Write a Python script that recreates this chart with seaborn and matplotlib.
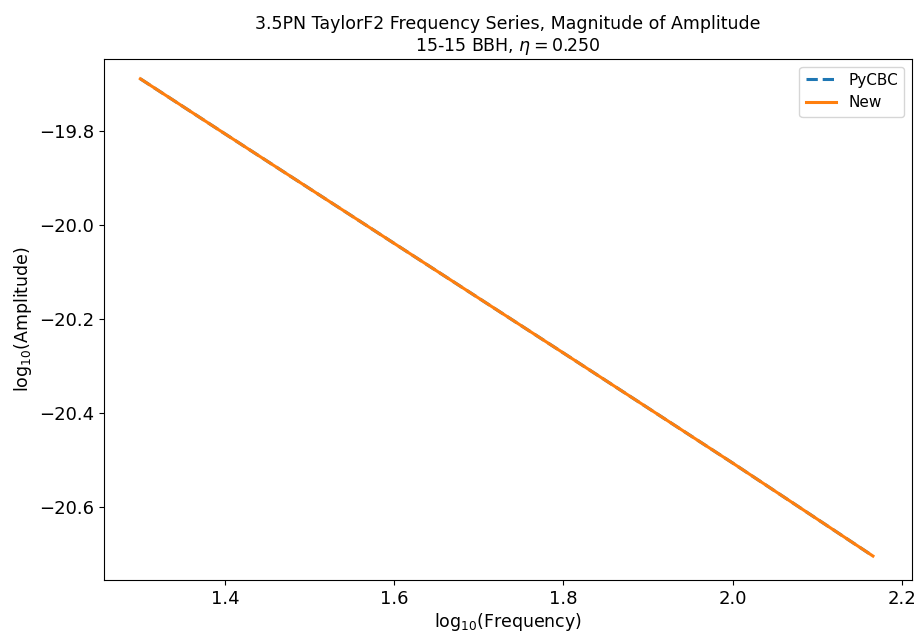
import numpy as np
import pandas as pd
import matplotlib
matplotlib.use("Agg")
import matplotlib.pyplot as plt
import seaborn as sns

# values (log10 scale)
log_freq = [1.300, 1.400, 1.600, 1.800, 2.000, 2.166]
amp_pycbc = [-19.689, -19.806, -20.039, -20.272, -20.506, -20.704]
amp_new = [-19.689, -19.806, -20.039, -20.272, -20.506, -20.704]

df = pd.DataFrame({"f": log_freq, "pycbc": amp_pycbc, "new": amp_new})

fig = plt.figure(figsize=(9.17, 6.33), dpi=100)
ax = fig.add_axes([0.1134, 0.0837, 0.881, 0.823])

sns.lineplot(data=df, x="f", y="pycbc", ax=ax, color="tab:blue",
             linestyle="--", linewidth=2.2, label="PyCBC")
sns.lineplot(data=df, x="f", y="new", ax=ax, color="tab:orange",
             linewidth=2.2, label="New")

ax.set_xlim(1.257, 2.212)
ax.set_ylim(-20.755, -19.647)
ax.set_xticks([1.4, 1.6, 1.8, 2.0, 2.2])
ax.set_yticks([-19.8, -20.0, -20.2, -20.4, -20.6])
ax.tick_params(labelsize=13)
ax.set_xlabel(r"log$_{10}$(Frequency)", fontsize=12.5, labelpad=2)
ax.set_ylabel(r"log$_{10}$(Amplitude)", fontsize=12.5)
ax.set_title("3.5PN TaylorF2 Frequency Series, Magnitude of Amplitude\n"
             r"15-15 BBH, $\eta = 0.250$", fontsize=12.5)
ax.legend(loc="upper right", fontsize=11)

fig.savefig("out.png", dpi=100)
